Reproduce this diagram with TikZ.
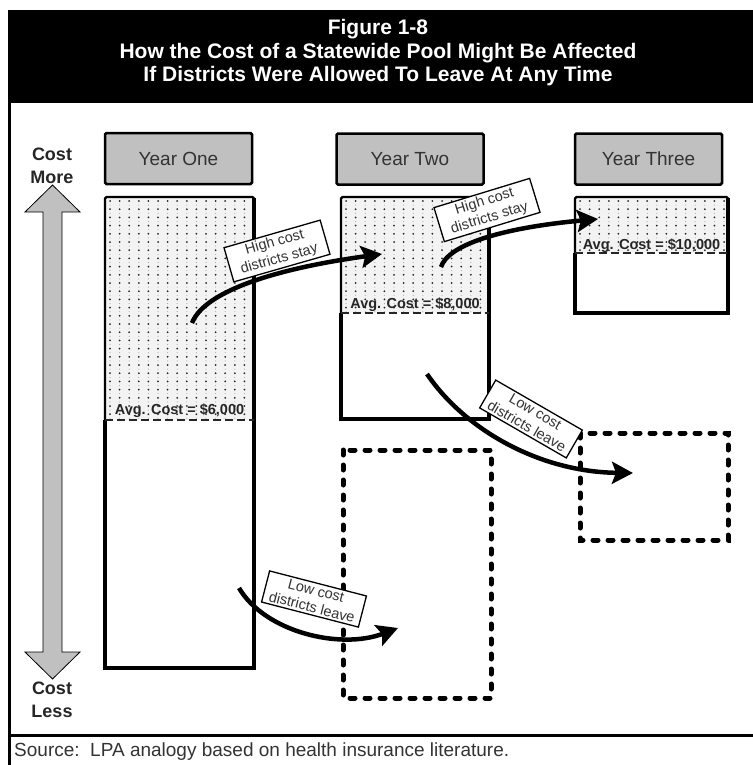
\documentclass[tikz,border=0pt]{standalone}
\usepackage{fontspec}
\setmainfont{Liberation Sans}
\usetikzlibrary{arrows.meta}
\definecolor{boxgray}{HTML}{C0C0C0}
\definecolor{dotbg}{HTML}{F3F3F3}
\definecolor{txt}{HTML}{333333}
\newcommand{\dotregion}[4]{%
  \fill[dotbg] (#1,#2) rectangle (#3,#4);
  \begin{scope}
    \clip (#1,#2) rectangle (#3,#4);
    \foreach \i in {0,...,16} {
      \foreach \j in {0,...,27} {
        \fill[black!85] ({#1+5+\i*9.6},{#2+4+\j*8.2}) circle (1pt);
        \fill[black!40] ({#1+5+\i*9.6},{#2+8.1+\j*8.2}) circle (0.5pt);
      }
    }
  \end{scope}}
\begin{document}
\begin{tikzpicture}[x=1pt,y=-1pt,
  yearbox/.style={draw=black, line width=2.5pt, fill=boxgray, rounded corners=1.5pt,
    minimum width=147pt, minimum height=51pt, inner sep=0pt,
    font=\fontsize{19}{22}\selectfont, text=txt},
  lbl/.style={draw=black, fill=white, line width=1.3pt, align=center, inner sep=2.5pt,
    minimum width=100pt, font=\fontsize{14.5}{17}\selectfont, text=txt},
  flow/.style={line width=4.5pt, -{Stealth[length=21pt,width=22pt,inset=4pt]}},
  avg/.style={font=\bfseries\fontsize{14.5}{16}\selectfont, text=black!85, anchor=base, inner sep=0pt},
  ghost/.style={line width=5pt, dash pattern=on 5pt off 10pt, line cap=round},
  costlbl/.style={font=\bfseries\fontsize{18}{23}\selectfont, text=black!85, anchor=base, inner sep=0pt},
  titletext/.style={font=\bfseries\fontsize{21}{24}\selectfont, text=white, anchor=base, inner sep=0pt},
  thin/.style={line width=2.2pt},
  thick/.style={line width=4.5pt, line join=miter},
  divider/.style={line width=2pt, dash pattern=on 8pt off 4pt, black!85}
]
\useasboundingbox (0,0) rectangle (752,765);

% frame and banner
\fill[black] (8,10) rectangle (756,103);
\draw[line width=3pt] (9.5,103) -- (9.5,768);
\draw[line width=3.5pt] (8,735.5) -- (756,735.5);

\node[titletext] (t1) at (378,35) {Figure 1-8};
\node[titletext] (t2) at (378,58.5) {How the Cost of a Statewide Pool Might Be Affected};
\node[titletext] (t3) at (378,82) {If Districts Were Allowed To Leave At Any Time};

% year boxes
\node[yearbox] (y1) at (178.5,158.5) {Year One};
\node[yearbox] (y2) at (410,159) {Year Two};
\node[yearbox] (y3) at (648.5,159) {Year Three};

% cost axis
\node[costlbl] (cm1) at (52,160) {Cost};
\node[costlbl] (cm2) at (52,183) {More};
\node[costlbl] (cl1) at (52,694) {Cost};
\node[costlbl] (cl2) at (52,717) {Less};
\draw[fill=boxgray, line width=0.8pt, line join=miter]
  (52.5,185) -- (80,212) -- (62,212) -- (62,652) -- (80,652) -- (52.5,679)
  -- (25,652) -- (43,652) -- (43,212) -- (25,212) -- cycle;

% column one
\dotregion{105}{197}{254}{420}
\draw[thin, rounded corners=1.5pt] (105,420) -- (105,197) -- (254,197) -- (254,420);
\draw[line width=3.5pt] (254,198) -- (254,420);
\draw[thick] (105,420) -- (105,668) -- (254,668) -- (254,420);
\draw[divider] (105,420) -- (254,420);
\node[avg] (avg1) at (179.5,414) {Avg. Cost = \$6,000};

% column two
\dotregion{341}{197}{489}{313}
\draw[thin, rounded corners=1.5pt] (341,313) -- (341,197) -- (489,197) -- (489,313);
\draw[line width=3.5pt] (489,198) -- (489,313);
\draw[thick] (341,313) -- (341,419) -- (489,419) -- (489,313);
\draw[divider] (341,313) -- (489,313);
\node[avg] (avg2) at (415,308) {Avg. Cost = \$8,000};

% column three
\dotregion{575}{197}{728}{253}
\draw[thin, rounded corners=1.5pt] (575,253) -- (575,197) -- (728,197) -- (728,253);
\draw[line width=3.5pt] (728,198) -- (728,253);
\draw[thick] (575,253) -- (575,313) -- (728,313) -- (728,253);
\draw[divider] (575,253) -- (728,253);
\node[avg] (avg3) at (651.5,249.5) {Avg. Cost = \$10,000};

% departed districts
\draw[ghost] (343,450) rectangle (491,698);
\draw[ghost] (580,433) rectangle (728,540);

% flow arrows
\coordinate (a1s) at (192,323);
\coordinate (a1e) at (382,254);
\coordinate (a2s) at (441,267);
\coordinate (a2e) at (598,219);
\coordinate (a3s) at (427,374);
\coordinate (a3e) at (633,473);
\coordinate (a4s) at (239,588);
\coordinate (a4e) at (398,628);
\draw[flow] (a1s) .. controls (205,290) and (280,268) .. (a1e);
\draw[flow] (a2s) .. controls (448,245) and (500,228) .. (a2e);
\draw[flow] (a3s) .. controls (465,430) and (540,472) .. (a3e);
\draw[flow] (a4s) .. controls (265,632) and (340,650) .. (a4e);

% labels
\node[lbl, rotate=16] (l1) at (277,251) {High cost\\districts stay};
\node[lbl, rotate=17] (l2) at (487,210) {High cost\\districts stay};
\node[lbl, rotate=-30] (l3) at (531,419) {Low cost\\districts leave};
\node[lbl, rotate=-14.5] (l4) at (314,599) {Low cost\\districts leave};

% source
\node[anchor=base west, inner sep=0pt, font=\fontsize{19}{22}\selectfont, text=txt] (src) at (14,756)
  {Source:\ \ LPA analogy based on health insurance literature.};
\end{tikzpicture}
\end{document}
